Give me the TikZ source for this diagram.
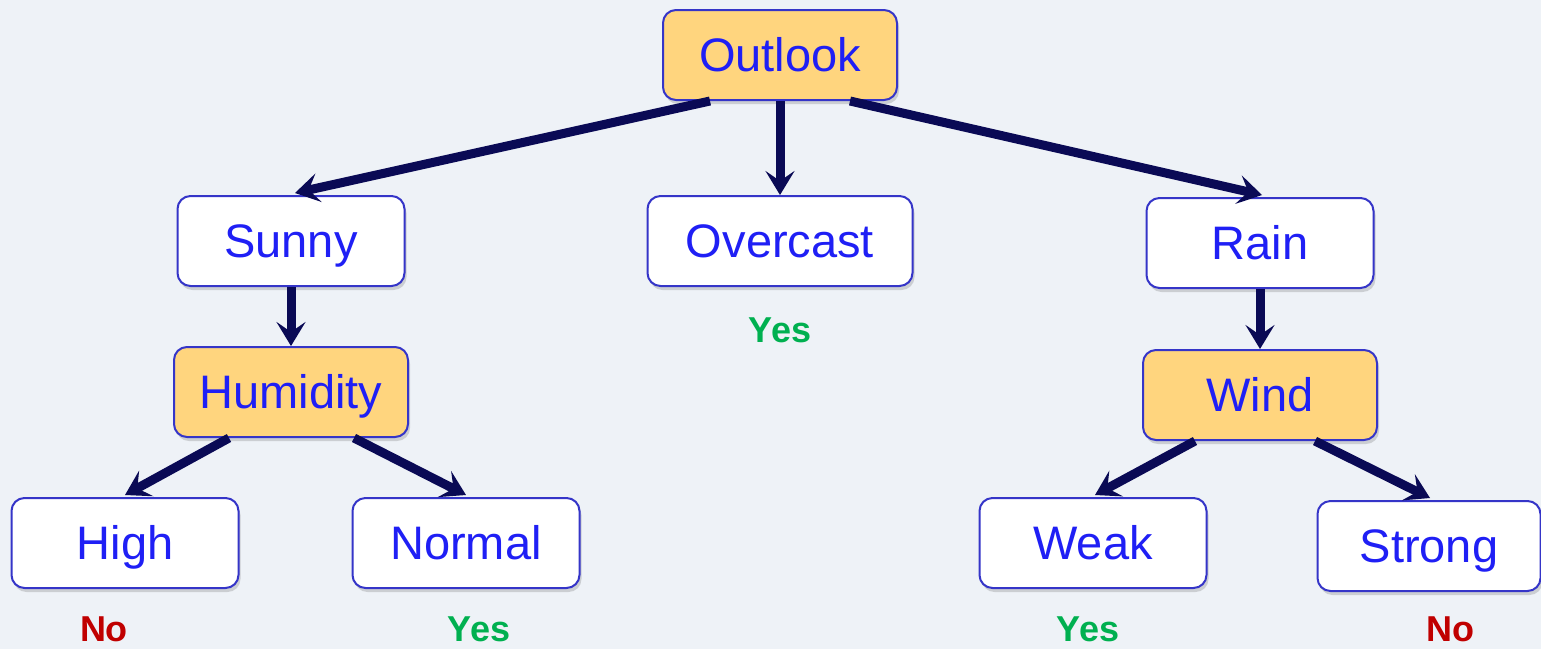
\documentclass[tikz,border=0pt]{standalone}
\usepackage{fontspec}
\setmainfont{Liberation Sans}
\usetikzlibrary{arrows.meta,calc,shadows}
\definecolor{bgcol}{HTML}{EEF2F7}
\definecolor{txtblue}{HTML}{1F1FF5}
\definecolor{edgeblue}{HTML}{3535C8}
\definecolor{attrfill}{HTML}{FFD57E}
\definecolor{navy}{HTML}{0A0A55}
\definecolor{yesgreen}{HTML}{00B050}
\definecolor{nored}{HTML}{C00000}
\tikzset{
  box/.style={draw=edgeblue, line width=2pt, rounded corners=13pt,
    minimum width=227pt, minimum height=90pt, text=txtblue,
    font=\fontsize{47}{50}\selectfont, text height=33.7pt, text depth=0pt,
    drop shadow={shadow xshift=2pt, shadow yshift=-4pt, opacity=0.25, fill=black!60}},
  attr/.style={box, fill=attrfill, minimum width=234pt},
  valbox/.style={box, fill=white},
  link/.style={draw=navy, line width=9pt,
    -{Stealth[length=24pt, width=29pt, inset=10pt]}},
  leaf/.style={inner sep=0pt, text height=25.8pt, text depth=0pt,
    font=\fontsize{36}{38}\selectfont\bfseries},
  yes/.style={leaf, text=yesgreen},
  no/.style={leaf, text=nored},
}
\begin{document}
\begin{tikzpicture}[x=1pt,y=-1pt]
  \fill[bgcol] (0,0) rectangle (1541,649);
  \useasboundingbox (0,0) rectangle (1541,649);

  % decision nodes and branch values
  \node[attr]   (outlook)  at (780,55)   {Outlook};
  \node[valbox] (sunny)    at (291,241)  {Sunny};
  \node[valbox, minimum width=265pt] (overcast) at (780,241) {Overcast};
  \node[valbox] (rain)     at (1260,243) {Rain};
  \node[attr]   (humidity) at (291,392)  {Humidity};
  \node[attr]   (wind)     at (1260,395) {Wind};
  \node[valbox] (high)     at (125,543)  {High};
  \node[valbox] (normal)   at (466,543)  {Normal};
  \node[valbox] (weak)     at (1093,543) {Weak};
  \node[valbox, minimum width=223pt] (strong) at (1429,546) {Strong};

  % leaf outcomes
  \node[yes] (yover)   at (780,330)  {Yes};
  \node[no]  (nhigh)   at (104,629)  {No};
  \node[yes] (ynormal) at (479,629)  {Yes};
  \node[yes] (yweak)   at (1088,629) {Yes};
  \node[no]  (nstrong) at (1450,629) {No};

  % branches
  \draw[link] ($(outlook.south)+(-70,0)$) -- ($(sunny.north)+(4,-2)$);
  \draw[link] (outlook.south) -- (overcast.north);
  \draw[link] ($(outlook.south)+(70,0)$) -- ($(rain.north)+(2,-2)$);
  \draw[link] (sunny.south) -- (humidity.north);
  \draw[link] (rain.south) -- (wind.north);
  \draw[link] ($(humidity.south)+(-62,0)$) -- ($(high.north)+(0,-2)$);
  \draw[link] ($(humidity.south)+(63,0)$) -- ($(normal.north)+(0,-2)$);
  \draw[link] ($(wind.south)+(-65,0)$) -- ($(weak.north)+(2,-2)$);
  \draw[link] ($(wind.south)+(55,0)$) -- ($(strong.north)+(1,-2)$);
\end{tikzpicture}
\end{document}
